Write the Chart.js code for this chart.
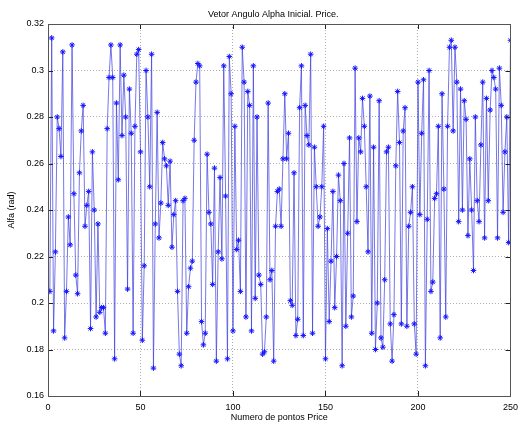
<!DOCTYPE html>
<html>
<head>
<meta charset="utf-8">
<title>Vetor Angulo Alpha Inicial. Price.</title>
<script src="https://cdn.jsdelivr.net/npm/chart.js@4.4.1/dist/chart.umd.min.js"></script>
<style>
    body { margin: 0; background: #ffffff; }
    #alphaChart { display: block; }
</style>
</head>
<body>
<canvas id="alphaChart" width="524" height="425"></canvas>
<script>
// valores, pontos 1..250
const alfaValues = [
    0.205, 0.314, 0.188, 0.222, 0.280, 0.275, 0.263, 0.308, 0.185, 0.205,
    0.237, 0.225, 0.311, 0.247, 0.212, 0.204, 0.256, 0.274, 0.285, 0.233,
    0.242, 0.248, 0.189, 0.265, 0.240,
    0.194, 0.234, 0.196, 0.198, 0.198, 0.187, 0.275, 0.297, 0.311, 0.297,
    0.176, 0.286, 0.253, 0.311, 0.272, 0.298, 0.280, 0.206, 0.292, 0.273,
    0.187, 0.276, 0.307, 0.309, 0.265, 0.184,
    0.216, 0.300, 0.280, 0.250, 0.307, 0.172, 0.234, 0.282, 0.228, 0.243,
    0.269, 0.262, 0.259, 0.242, 0.261, 0.224, 0.238, 0.244, 0.205, 0.178,
    0.173, 0.244, 0.245, 0.187,
    0.207, 0.215, 0.218, 0.270, 0.295, 0.303, 0.302, 0.192, 0.182, 0.187,
    0.264, 0.239, 0.234, 0.208, 0.258, 0.175, 0.222, 0.254, 0.219, 0.302,
    0.246, 0.176, 0.306, 0.290, 0.188,
    0.276, 0.223, 0.227, 0.205, 0.310, 0.295, 0.194, 0.291, 0.285, 0.188,
    0.302, 0.202, 0.280, 0.212, 0.208, 0.178, 0.179, 0.194, 0.286, 0.210,
    0.214, 0.175, 0.233, 0.248, 0.249,
    0.233, 0.262, 0.290, 0.262, 0.273, 0.201, 0.199, 0.256, 0.186, 0.193,
    0.284, 0.302, 0.186, 0.285, 0.272, 0.268, 0.307, 0.187, 0.267, 0.250,
    0.233, 0.237, 0.250, 0.276, 0.176,
    0.232, 0.192, 0.218, 0.248, 0.198, 0.220, 0.255, 0.244, 0.173, 0.260,
    0.190, 0.230, 0.271, 0.194, 0.203, 0.301, 0.235, 0.271, 0.265, 0.288,
    0.276, 0.250, 0.222, 0.289, 0.187,
    0.267, 0.180, 0.200, 0.287, 0.185, 0.181, 0.210, 0.265, 0.267, 0.191,
    0.175, 0.195, 0.259, 0.291, 0.269, 0.191, 0.274, 0.284, 0.190, 0.233,
    0.239, 0.250, 0.191, 0.178, 0.295,
    0.238, 0.273, 0.296, 0.173, 0.236, 0.300, 0.205, 0.209, 0.245, 0.247,
    0.276, 0.185, 0.290, 0.249, 0.194, 0.276, 0.310, 0.313, 0.274, 0.310,
    0.295, 0.235, 0.292, 0.240, 0.287, 0.279,
    0.229, 0.262, 0.240, 0.214, 0.280, 0.244, 0.235, 0.268, 0.295, 0.228,
    0.288, 0.244, 0.283, 0.300, 0.297, 0.292, 0.228, 0.301, 0.285, 0.239,
    0.265, 0.280, 0.226, 0.313
];
const xTicks = [0, 50, 100, 150, 200, 250];
const yTicks = [0.16, 0.18, 0.20, 0.22, 0.24, 0.26, 0.28, 0.30, 0.32];

const chartTitle = 'Vetor Angulo Alpha Inicial. Price.';
const xLabel = 'Numero de pontos Price';
const yLabel = 'Alfa (rad)';

const FONT = { family: '"Liberation Sans", Arial, sans-serif', size: 9 };

// moldura + marcas internas estilo matlab, e o titulo
const matlabBox = {
    id: 'matlabBox',
    afterDraw(chart) {
        const ctx = chart.ctx;
        const a = chart.chartArea;
        const xs = chart.scales.x, ys = chart.scales.y;
        const tl = 5;
        ctx.save();
        ctx.strokeStyle = '#222222';
        ctx.lineWidth = 1;
        ctx.beginPath();
        xTicks.forEach(v => {
            const px = Math.round(xs.getPixelForValue(v)) + 0.5;
            ctx.moveTo(px, a.bottom); ctx.lineTo(px, a.bottom - tl);
            ctx.moveTo(px, a.top); ctx.lineTo(px, a.top + tl);
        });
        yTicks.forEach(v => {
            const py = Math.round(ys.getPixelForValue(v)) + 0.5;
            ctx.moveTo(a.left, py); ctx.lineTo(a.left + tl, py);
            ctx.moveTo(a.right, py); ctx.lineTo(a.right - tl, py);
        });
        ctx.stroke();
        ctx.strokeStyle = '#555555';
        ctx.strokeRect(Math.round(a.left) + 0.5, Math.round(a.top) + 0.5,
            Math.round(a.right - a.left), Math.round(a.bottom - a.top));

        ctx.fillStyle = '#000000';
        ctx.font = FONT.size + 'px ' + FONT.family;
        ctx.textAlign = 'center';
        ctx.textBaseline = 'middle';
        ctx.fillText(chartTitle, (a.left + a.right) / 2 - 6, 15);
        ctx.restore();
    }
};

const points = alfaValues.map((v, i) => ({ x: i + 1, y: v }));

new Chart(document.getElementById('alphaChart'), {
    type: 'line',
    data: {
        datasets: [{
            data: points,
            borderColor: '#3c3ce0',
            borderWidth: 0.7,
            pointStyle: 'star',
            pointRadius: 2.8,
            pointBorderColor: '#1414ff',
            pointBackgroundColor: '#1414ff',
            pointBorderWidth: 1,
            tension: 0,
            fill: false
        }]
    },
    options: {
        responsive: false,
        animation: false,
        layout: { padding: { top: 24, right: 4, left: 0, bottom: 0 } },
        plugins: {
            legend: { display: false },
            tooltip: { enabled: false }
        },
        scales: {
            x: {
                type: 'linear',
                min: 0,
                max: 250,
                afterBuildTicks: s => { s.ticks = xTicks.map(v => ({ value: v })); },
                afterFit: s => { s.height = 29; },
                grid: { color: 'rgba(0,0,0,0.32)', drawTicks: false, lineWidth: 1 },
                border: { display: false, dash: [1, 2] },
                ticks: { color: '#000', font: FONT, padding: 6, maxRotation: 0 },
                title: { display: true, text: xLabel, color: '#000', font: FONT, padding: { top: 0, bottom: 2 } }
            },
            y: {
                min: 0.16,
                max: 0.32,
                afterBuildTicks: s => { s.ticks = yTicks.map(v => ({ value: v })); },
                afterFit: s => { s.width = 48; },
                grid: { color: 'rgba(0,0,0,0.32)', drawTicks: false, lineWidth: 1 },
                border: { display: false, dash: [1, 2] },
                ticks: {
                    color: '#000',
                    font: FONT,
                    padding: 4,
                    callback: v => String(Number(v.toFixed(2)))
                },
                title: { display: true, text: yLabel, color: '#000', font: FONT, padding: { top: 6, bottom: 0 } }
            }
        }
    },
    plugins: [matlabBox]
});
</script>
</body>
</html>
